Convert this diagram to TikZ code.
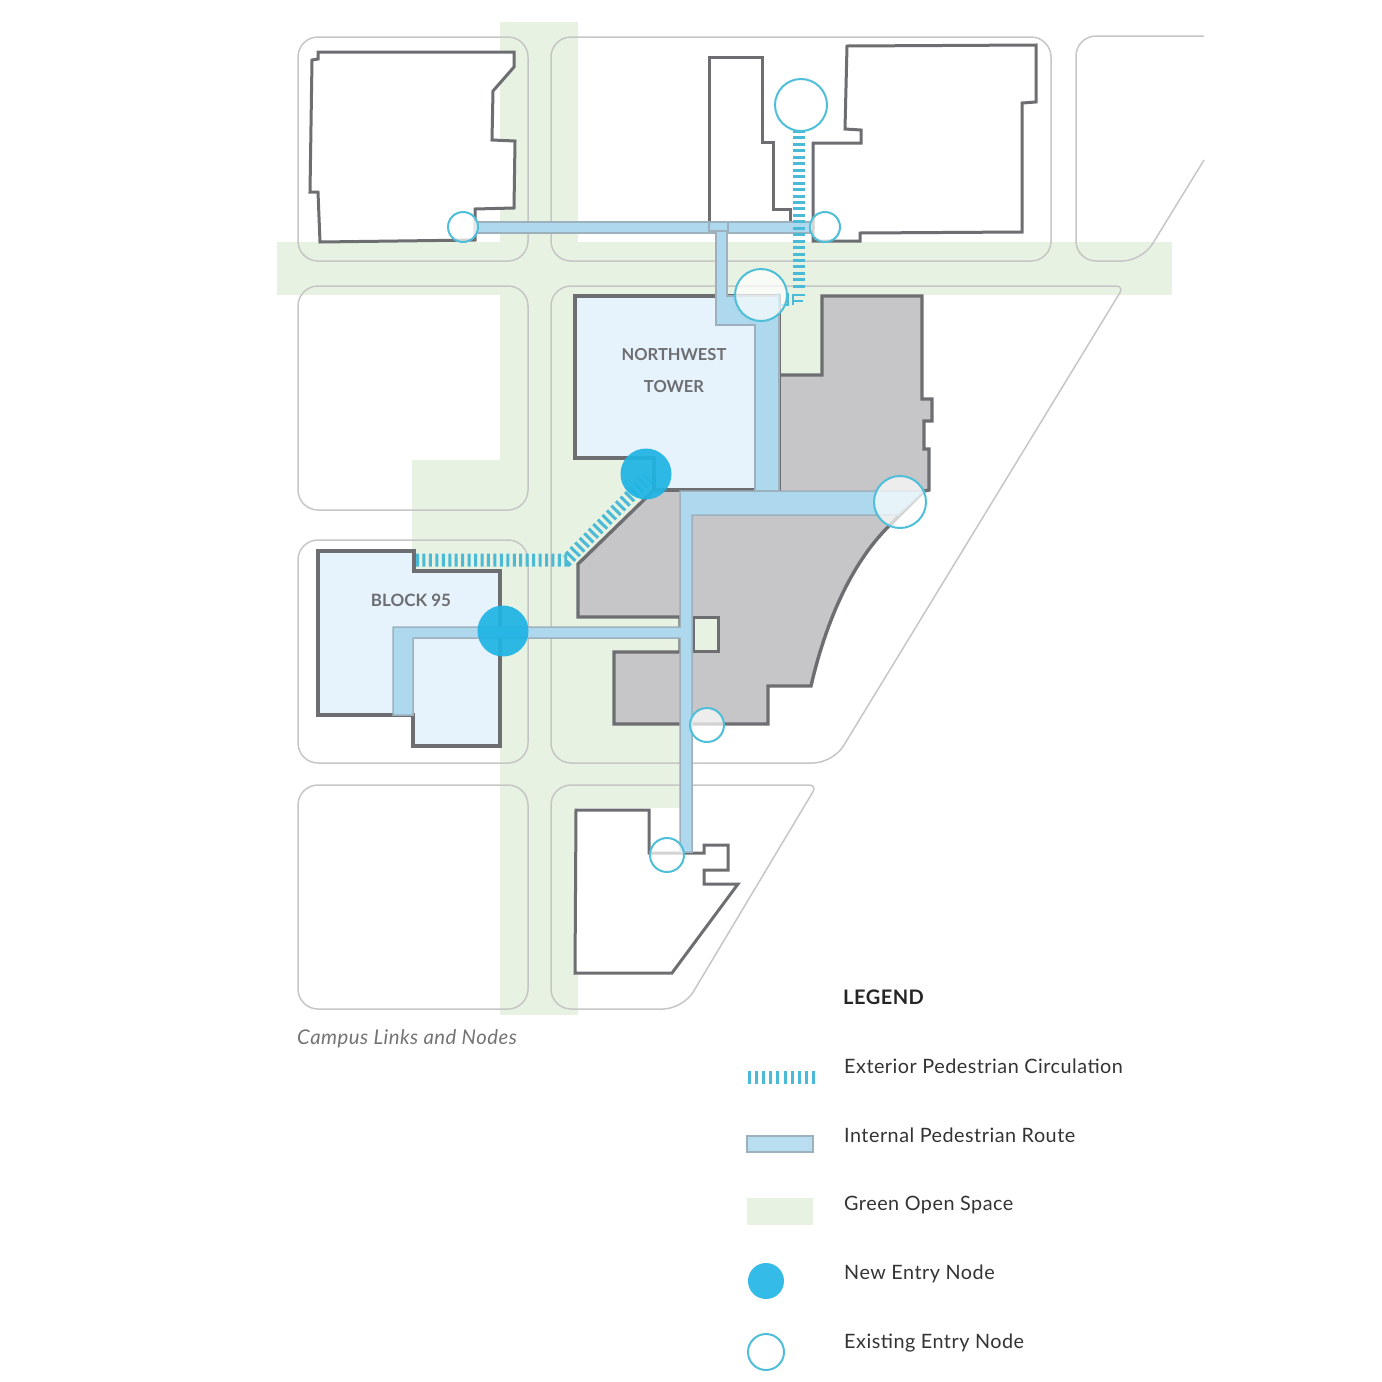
\documentclass[tikz,border=0pt]{standalone}
\usepackage{fontspec}
\setmainfont{Lato}[LetterSpace=2.5]
\newfontfamily\labelfont{Lato}
\definecolor{greenspace}{HTML}{E8F2E3}
\definecolor{blockline}{HTML}{C6C6C6}
\definecolor{bldline}{HTML}{6D6E71}
\definecolor{grayfill}{HTML}{C6C5C7}
\definecolor{paleblue}{HTML}{E6F3FC}
\definecolor{routeblue}{HTML}{ADD8EE}
\definecolor{routeedge}{HTML}{9DB1BD}
\definecolor{hatchblue}{HTML}{4ABAD6}
\definecolor{nodeblue}{HTML}{1FB4E4}
\definecolor{nodeline}{HTML}{4FBFD9}
\tikzset{
  greenarea/.style={fill=greenspace,draw=none},
  blockpath/.style={draw=blockline,line width=1.5pt,rounded corners=20pt},
  bldg/.style={draw=bldline,line width=3.4pt,line join=miter,fill=white},
  bldgthin/.style={bldg,line width=3pt},
  bldgpale/.style={bldg,fill=paleblue},
  bldggray/.style={bldg,fill=grayfill},
  routepath/.style={fill=routeblue,draw=routeedge,line width=1.5pt},
  hatchline/.style={draw=hatchblue,dash pattern=on 3pt off 3.45pt},
  hatchthin/.style={draw=hatchblue,line width=2.8pt},
  existnode/.style={circle,inner sep=0pt,draw=nodeline,line width=2pt,fill=white,fill opacity=.7},
  newnode/.style={circle,inner sep=0pt,draw=none,fill=nodeblue,fill opacity=.93},
  legendtext/.style={anchor=base west,inner sep=0pt,text=black!80,font=\fontsize{19.8}{24}\selectfont},
  maplabel/.style={anchor=base,inner sep=0pt,text=bldline,font=\labelfont\fontsize{16.5}{21}\selectfont\bfseries},
}
\begin{document}
\begin{tikzpicture}[x=1pt,y=-1pt]
\useasboundingbox (0,0) rectangle (1382,1382);
% green open space
\fill[greenarea] (500,22) rectangle (578,1015);
\fill[greenarea] (277,242) rectangle (1172,295);
\fill[greenarea] (412,460) rectangle (500,746);
\fill[greenarea] (578,295) rectangle (680,808);
\fill[greenarea] (779,295) rectangle (822,380);
% city blocks
\draw[blockpath] (298,150) -- (298,37) -- (528,37) -- (528,261) -- (298,261) -- cycle;
\draw[blockpath] (551,150) -- (551,37) -- (1051,37) -- (1051,261) -- (551,261) -- cycle;
\draw[blockpath] (1204,36) -- (1076,36) -- (1076,261) -- (1142,261) -- (1204,160);
\draw[blockpath] (298,400) -- (298,286) -- (528,286) -- (528,510) -- (298,510) -- cycle;
\draw[blockpath] (298,650) -- (298,540) -- (528,540) -- (528,763) -- (298,763) -- cycle;
\draw[blockpath] (551,500) -- (551,286) -- (1000,286) [rounded corners=8pt] -- (1124,286) [rounded corners=20pt] -- (833,763) -- (551,763) -- cycle;
\draw[blockpath] (298,900) -- (298,785) -- (528,785) -- (528,1009) -- (298,1009) -- cycle;
\draw[blockpath] (551,900) -- (551,785) -- (700,785) [rounded corners=8pt] -- (817,785) [rounded corners=20pt] -- (683,1009) -- (551,1009) -- cycle;
% outlined neighbouring buildings
\draw[bldgthin] (310,192) -- (312,60) -- (318,59) -- (318,52) -- (514,52) -- (514,67) -- (493,91) -- (492,140) -- (515,141) -- (514,208) -- (475,209) -- (475,240) -- (320,242) -- (318,192) -- cycle;
\draw[bldgthin] (709,57) -- (762,57) -- (762,142) -- (773,142) -- (773,209) -- (790,209) -- (790,222) -- (709,222) -- cycle;
\draw[bldgthin] (847,46) -- (1036,45) -- (1036,102) -- (1022,103) -- (1022,232) -- (860,233) -- (860,241) -- (813,241) -- (813,143) -- (861,143) -- (861,130) -- (845,129) -- cycle;
\draw[bldgthin] (576,810) -- (649,810) -- (649,853) -- (704,853) -- (704,845) -- (728,845) -- (728,870) -- (704,870) -- (704,884) -- (738,884) -- (672,973) -- (575,973) -- cycle;
% campus buildings
\draw[bldggray] (822,296) -- (922,296) -- (922,399) -- (932,399) -- (932,421) -- (924,421) -- (924,449) -- (929,449) -- (929,490) -- (924,491) -- (888,527) .. controls (850,565) and (825,625) .. (811,686) -- (768,686) -- (768,724) -- (614,724) -- (614,652) -- (680,652) -- (680,617) -- (578,617) -- (578,564) -- (654,490) -- (779,490) -- (779,375) -- (822,375) -- cycle;
\draw[bldgthin,fill=greenspace] (693,617) rectangle (718,651);
\draw[bldgpale] (575,296) -- (779,296) -- (779,490) -- (654,490) -- (654,458) -- (575,458) -- cycle;
\draw[bldgpale] (318,551) -- (414,551) -- (414,571) -- (500,571) -- (500,746) -- (413,746) -- (413,715) -- (318,715) -- cycle;
% internal route
\draw[routepath] (475,222) -- (810,222) -- (810,233) -- (475,233) -- cycle;
\draw[routepath] (709,222) rectangle (728,231);
\draw[routepath] (716,231) -- (727,231) -- (727,296) -- (779,296) -- (779,491) -- (755,491) -- (755,325) -- (716,325) -- cycle;
\draw[routepath] (393,627) -- (680,627) -- (680,491) -- (924,491) -- (898,515) -- (692,515) -- (692,852) -- (680,852) -- (680,638) -- (413,638) -- (413,715) -- (393,715) -- cycle;
% exterior circulation
\draw[hatchline,line width=12pt] (799,130) -- (799,291);
\draw[hatchthin] (779,293) -- (779,305) -- (788,305) -- (788,293);
\draw[hatchthin] (793,305) -- (793,295) -- (805,295);
\draw[hatchthin] (793,301) -- (803,301);
\draw[hatchline,line width=13pt] (416,560) -- (567,560) -- (648,478);
% entry nodes
\node[existnode,minimum size=30pt] (e1) at (463,227) {};
\node[existnode,minimum size=30pt] (e2) at (825,227) {};
\node[existnode,minimum size=52pt] (e3) at (801,105) {};
\node[existnode,minimum size=52pt] (e4) at (761,295) {};
\node[existnode,minimum size=52pt] (e5) at (900,502) {};
\node[existnode,minimum size=34pt] (e6) at (707,725) {};
\node[existnode,minimum size=34pt] (e7) at (667,855) {};
\node[newnode,minimum size=51pt] (n1) at (646,474) {};
\node[newnode,minimum size=51pt] (n2) at (503,631) {};
% labels
\node[maplabel] (l1) at (674,360) {NORTHWEST};
\node[maplabel] (l2) at (674,392) {TOWER};
\node[maplabel,font=\labelfont\fontsize{17}{21}\selectfont\bfseries] (l3) at (411,606) {BLOCK 95};
\node[anchor=base west,inner sep=0pt,text=black!55,font=\fontsize{20.3}{24}\selectfont\itshape] (cap) at (297,1044) {Campus Links and Nodes};
% legend
\node[anchor=base west,inner sep=0pt,text=black!85,font=\fontsize{20}{24}\selectfont\bfseries] (lg) at (843,1004) {LEGEND};
\coordinate (h1) at (748,1077);
\coordinate (h2) at (815,1077);
\draw[hatchline,line width=13pt,dash pattern=on 3pt off 4.1pt] (h1) -- (h2);
\draw[routepath,fill=routeblue!85!white] (747,1136) rectangle (813,1152);
\fill[greenarea] (747,1198) rectangle (813,1225);
\node[newnode,fill=nodeblue!90!white,fill opacity=1,minimum size=36pt] (ln) at (766,1281) {};
\node[existnode,minimum size=36pt] (le) at (766,1352) {};
\node[legendtext] (t1) at (844,1073) {Exterior Pedestrian Circulation};
\node[legendtext] (t2) at (844,1142) {Internal Pedestrian Route};
\node[legendtext] (t3) at (844,1210.5) {Green Open Space};
\node[legendtext] (t4) at (844,1279) {New Entry Node};
\node[legendtext] (t5) at (844,1348) {Existing Entry Node};
\end{tikzpicture}
\end{document}
